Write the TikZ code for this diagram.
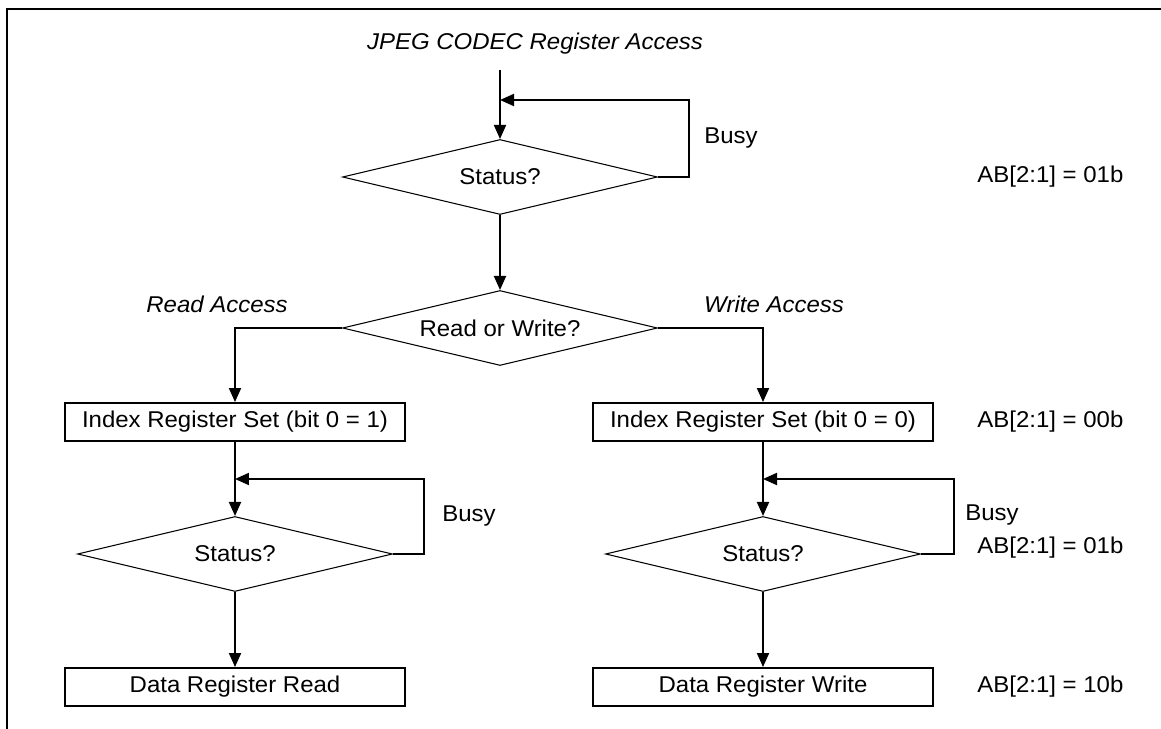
\documentclass[tikz,border=0pt]{standalone}
\usepackage{fontspec}
\setmainfont{Liberation Sans}[FakeStretch=1.05]
\usetikzlibrary{arrows.meta, shapes.geometric}

\begin{document}
\begin{tikzpicture}[x=0.02cm, y=-0.02cm,
        every node/.style={font=\fontsize{13}{15}\selectfont},
        dec/.style={diamond, draw, line width=0.6pt, aspect=4.2, minimum width=6.3cm, minimum height=1.5cm, inner sep=0pt},
        box/.style={rectangle, draw, line width=1.1pt, minimum width=6.8cm, minimum height=0.76cm, inner sep=0pt},
        conn/.style={-{Triangle[length=2.8mm, width=2.4mm]}, line width=1.1pt},
        lbl/.style={inner sep=0pt, anchor=west},
        acc/.style={inner sep=0pt, font=\fontsize{13}{15}\selectfont\itshape}
      ]
        \useasboundingbox (0,0) rectangle (1161,729);
        \draw[line width=1.1pt] (7,729) |- (1161,9);
        \node[acc] (ttl) at (535,44) {JPEG CODEC Register Access};
        \node[dec] (st)  at (500,177) {Status?};
        \node[dec] (rw)  at (500,328) {Read or Write?};
        \node[box] (ixr) at (235,422) {Index Register Set (bit 0 = 1)};
        \node[box] (ixw) at (763,422) {Index Register Set (bit 0 = 0)};
        \node[dec] (str) at (235,554) {Status?};
        \node[dec] (stw) at (763,554) {Status?};
        \node[box] (dr)  at (235,687) {Data Register Read};
        \node[box] (dw)  at (763,687) {Data Register Write};
        \node[acc] (racc) at (217,304) {Read Access};
        \node[acc] (wacc) at (774,304) {Write Access};
        \node[lbl] (b1) at (704,138) {Busy};
        \node[lbl] (b2) at (442,516) {Busy};
        \node[lbl] (b3) at (965,515) {Busy};
        \node[lbl] (ab1) at (977,177) {AB[2:1] = 01b};
        \node[lbl] (ab2) at (977,422) {AB[2:1] = 00b};
        \node[lbl] (ab3) at (977,548) {AB[2:1] = 01b};
        \node[lbl] (ab4) at (977,687) {AB[2:1] = 10b};
        \coordinate (in)  at (500,70);
        \coordinate (lp1) at (500,100);
        \coordinate (lp2) at (235,479);
        \coordinate (lp3) at (763,479);
        \draw[conn] (in) -- (st);
        \draw[conn] (rw.west) -| (ixr.north);
        \draw[conn] (rw.east) -| (ixw.north);
        \foreach \a/\b in {st/rw, ixr/str, ixw/stw, str/dr, stw/dw} { \draw[conn] (\a) -- (\b); }
        \foreach \d/\c/\w in {st/lp1/31, str/lp2/31, stw/lp3/33} { \draw[conn] (\d.east) -- ++(\w,0) |- (\c); }
      \end{tikzpicture}
\end{document}
